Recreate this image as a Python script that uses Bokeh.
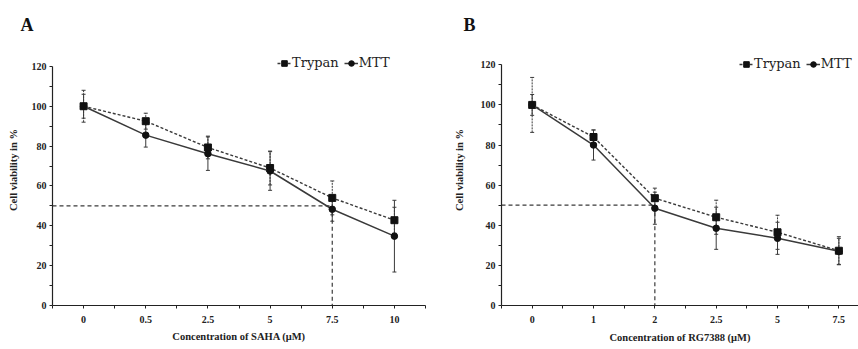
from bokeh.plotting import figure
from bokeh.models import (FixedTicker, Whisker, TeeHead, ColumnDataSource, Legend,
                          LegendItem, Range1d)
from bokeh.layouts import row
from bokeh.embed import file_html
from bokeh.resources import INLINE

# ---------------- data ----------------
conc_a = ["0", "0.5", "2.5", "5", "7.5", "10"]
trypan_a = [100, 92.5, 79.3, 69, 54, 42.8]
trypan_a_err = [8, 4, 5.7, 8.5, 8.5, 6.5]
mtt_a = [100, 85.5, 76.2, 67.5, 48.3, 34.8]
mtt_a_err = [6, 6, 8.4, 9.7, 6, 18]
ic50_a = "7.5"

conc_b = ["0", "1", "2", "2.5", "5", "7.5"]
trypan_b = [100, 84, 53.5, 44, 36.5, 27.3]
trypan_b_err = [13.7, 3.5, 5, 8.5, 8.5, 7]
mtt_b = [100, 80, 48.5, 38.5, 33.5, 27]
mtt_b_err = [5.2, 7.5, 8, 10.5, 8, 6.5]
ic50_b = "2"

ic50_level = 50
y_ticks = [0, 20, 40, 60, 80, 100, 120]

FONT = "Liberation Serif"
LEG_FONT = "DejaVu Serif"
LINE = "#3a3a3a"
MARK = "#111111"


def panel(letter, conc, tr, tr_err, mt, mt_err, ic50, xlabel, width, border_left,
          border_right, border_bottom, x_end, y_end, ylab_standoff, xlab_standoff,
          legend_x, legend_y, letter_offset):
    p = figure(width=width, height=349, output_backend="svg", toolbar_location=None,
               x_range=Range1d(-0.5, x_end), y_range=Range1d(0, y_end),
               min_border_left=border_left, min_border_right=border_right,
               min_border_top=34, min_border_bottom=border_bottom)
    p.outline_line_color = None
    p.xgrid.visible = False
    p.ygrid.visible = False
    p.background_fill_color = "white"
    p.border_fill_color = "white"

    p.title.text = letter
    p.title.align = "left"
    p.title.offset = letter_offset
    p.title.standoff = 0
    p.title.text_font = FONT
    p.title.text_font_style = "bold"
    p.title.text_font_size = "18px"
    p.title.text_color = "#111111"

    idx = list(range(len(conc)))
    src = ColumnDataSource(dict(
        x=idx, tr=tr, mt=mt,
        tr_up=[v + e for v, e in zip(tr, tr_err)], tr_lo=[v - e for v, e in zip(tr, tr_err)],
        mt_up=[v + e for v, e in zip(mt, mt_err)], mt_lo=[v - e for v, e in zip(mt, mt_err)],
    ))

    # IC50 guide lines
    xi = conc.index(ic50)
    p.segment(x0=[-0.5, xi], y0=[ic50_level, ic50_level], x1=[xi, xi], y1=[ic50_level, 0],
              line_color=LINE, line_width=1.2, line_dash="4 3")

    # error bars
    for up, lo, dash in (("tr_up", "tr_lo", "2 1"), ("mt_up", "mt_lo", "solid")):
        w = Whisker(source=src, base="x", upper=up, lower=lo, line_color=LINE,
                    line_width=1, line_dash=dash,
                    upper_head=TeeHead(size=4, line_color=LINE, line_width=1),
                    lower_head=TeeHead(size=4, line_color=LINE, line_width=1))
        p.add_layout(w)

    lt = p.line("x", "tr", source=src, line_color=LINE, line_width=1.4, line_dash="3 2")
    st = p.scatter("x", "tr", source=src, marker="square", size=7, fill_color=MARK,
                   line_color=MARK)
    lm = p.line("x", "mt", source=src, line_color=LINE, line_width=1.5)
    sm = p.scatter("x", "mt", source=src, marker="circle", size=6.5, fill_color=MARK,
                   line_color=MARK)

    # axes
    xa = p.xaxis[0]
    xa.ticker = FixedTicker(ticks=idx, minor_ticks=[i - 0.5 for i in idx] + [idx[-1] + 0.5])
    xa.major_label_overrides = {i: c for i, c in zip(idx, conc)}
    xa.bounds = (-0.5, len(conc) - 0.5)
    ya = p.yaxis[0]
    ya.ticker = FixedTicker(ticks=y_ticks, minor_ticks=[t + 10 for t in y_ticks[:-1]])
    ya.bounds = (y_ticks[0], y_ticks[-1])
    for ax in (xa, ya):
        ax.axis_line_color = "#222222"
        ax.axis_line_width = 1.2
        ax.major_tick_line_color = "#222222"
        ax.minor_tick_line_color = "#222222"
        ax.major_tick_in = 0
        ax.major_tick_out = 3
        ax.minor_tick_in = 0
        ax.minor_tick_out = 3
        ax.major_label_text_font = FONT
        ax.major_label_text_font_style = "bold"
        ax.major_label_text_font_size = "10px"
        ax.major_label_text_color = "#222222"
        ax.axis_label_text_font = FONT
        ax.axis_label_text_font_style = "bold"
        ax.axis_label_text_font_size = "10.5px"
        ax.axis_label_text_color = "#222222"
    xa.major_label_standoff = 7
    xa.axis_label = xlabel
    xa.axis_label_standoff = xlab_standoff
    ya.major_label_standoff = 3
    ya.axis_label = "Cell viability in %"
    ya.axis_label_standoff = ylab_standoff

    legend = Legend(items=[LegendItem(label="Trypan", renderers=[lt, st]),
                           LegendItem(label="MTT", renderers=[lm, sm])],
                    orientation="horizontal", location=(legend_x, legend_y),
                    glyph_width=14, glyph_height=14, label_standoff=1, spacing=5,
                    padding=0, margin=0, border_line_color=None,
                    background_fill_alpha=0,
                    label_text_font=LEG_FONT, label_text_font_size="13px",
                    label_text_color="#222222")
    p.add_layout(legend)
    return p


pa = panel("A", conc_a, trypan_a, trypan_a_err, mtt_a, mtt_a_err, ic50_a,
           "Concentration of SAHA (\u03bcM)", 430, 52, 5, 43, 5.5, 136.0, 10, 5,
           225, 235, -32)
pb = panel("B", conc_b, trypan_b, trypan_b_err, mtt_b, mtt_b_err, ic50_b,
           "Concentration of RG7388 (\u03bcM)", 428, 71, 0, 44, 5.32, 135.1, 13, 6,
           238, 234, -38)

layout = row(pa, pb)
open("out.html", "w").write(file_html(layout, INLINE))
